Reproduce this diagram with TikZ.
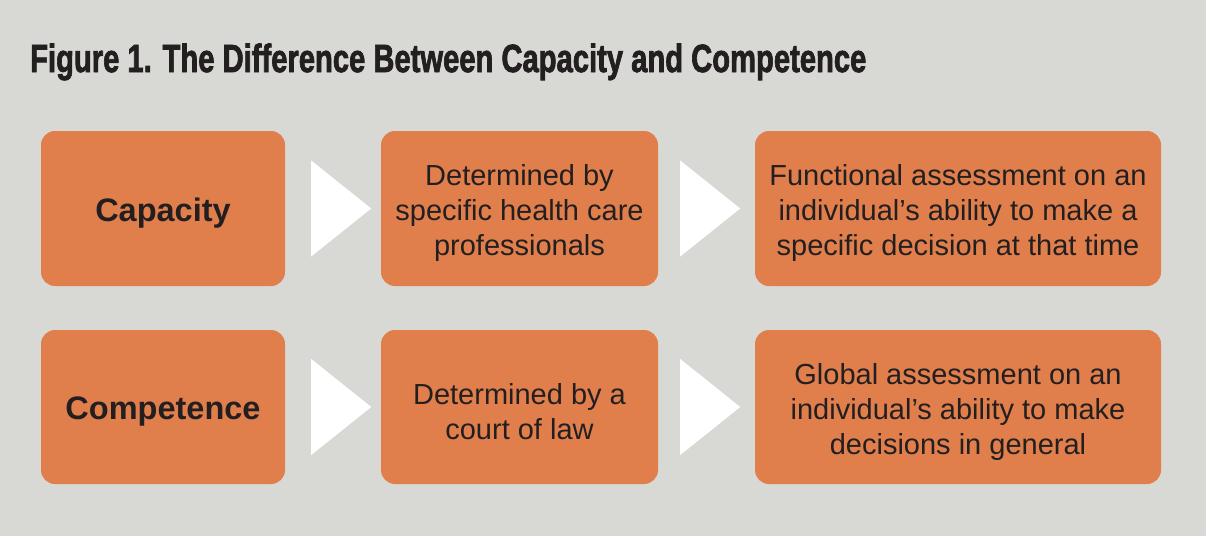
\documentclass[tikz,border=0pt]{standalone}
\usepackage{fontspec}
\setmainfont{Liberation Sans}
\newfontfamily\titlefont{Liberation Sans}[BoldFeatures={FakeBold=2.2}]
\usetikzlibrary{calc}
\definecolor{bgc}{RGB}{216,217,212}
\definecolor{boxc}{RGB}{224,127,76}
\definecolor{txtc}{RGB}{35,31,32}
\tikzset{
  box/.style={fill=boxc, rounded corners=14pt, inner sep=0pt},
  headbox/.style={box, minimum width=244pt},
  midbox/.style={box, minimum width=277pt},
  rightbox/.style={box, minimum width=406pt},
  bodytxt/.style={align=center, text=txtc, inner sep=0pt, font=\fontsize{29pt}{35pt}\selectfont},
  headtxt/.style={bodytxt, font=\fontsize{32.5pt}{38pt}\selectfont\bfseries},
  chev/.style={fill=white}
}
\begin{document}
\begin{tikzpicture}[x=1pt,y=-1pt]
\fill[bgc] (0,0) rectangle (1206,536);
\useasboundingbox (0,0) rectangle (1206,536);
\node[anchor=base west, text=txtc, inner sep=0pt] (title) at (30,72)
  {\resizebox{836pt}{28.5pt}{\titlefont\bfseries Figure 1. The Difference Between Capacity and Competence}};
% row 1
\node[headbox, minimum height=155pt] (cap) at (163,208.5) {};
\node[midbox, minimum height=155pt] (capwho) at (519.5,208.5) {};
\node[rightbox, minimum height=155pt] (capwhat) at (958,208.5) {};
% row 2
\node[headbox, minimum height=154pt] (comp) at (163,407) {};
\node[midbox, minimum height=154pt] (compwho) at (519.5,407) {};
\node[rightbox, minimum height=154pt] (compwhat) at (958,407) {};
% texts
\node[headtxt] (capt) at ($(cap.center)+(0,4.5)$) {Capacity};
\node[bodytxt] (capwhot) at ($(capwho.center)+(0,4.5)$) {Determined by\\specific health care\\professionals};
\node[bodytxt] (capwhatt) at ($(capwhat.center)+(0,4.5)$) {Functional assessment on an\\individual’s ability to make a\\specific decision at that time};
\node[headtxt] (compt) at ($(comp.center)+(0,5)$) {Competence};
\node[bodytxt] (compwhot) at ($(compwho.center)+(0,5)$) {Determined by a\\court of law};
\node[bodytxt] (compwhatt) at ($(compwhat.center)+(0,5)$) {Global assessment on an\\individual’s ability to make\\decisions in general};
% chevrons
\foreach \a/\d in {cap/26,comp/26,capwho/22,compwho/22}{
  \fill[chev] ($(\a.east)+(\d,-48)$) -- ($(\a.east)+(\d+60,0)$) -- ($(\a.east)+(\d,48)$) -- cycle;
}
\end{tikzpicture}
\end{document}
